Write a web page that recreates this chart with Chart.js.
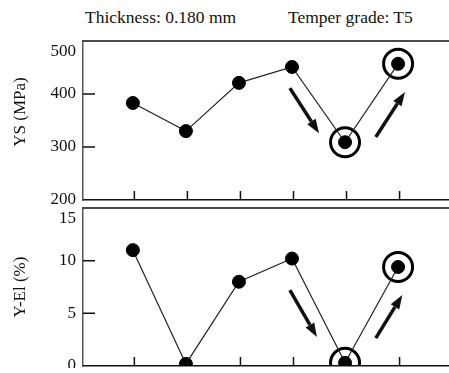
<!DOCTYPE html>
<html>
<head>
<meta charset="utf-8">
<script src="https://cdn.jsdelivr.net/npm/chart.js@4/dist/chart.umd.min.js"></script>
<style>
    html, body { margin: 0; padding: 0; background: #fff; overflow: hidden; }
    #page { position: relative; width: 449px; height: 373px; overflow: hidden; background: #fff; }
    .head { position: absolute; top: 9px; font: 17.5px "Liberation Serif", serif; line-height: 1; color: #111; white-space: nowrap; }
    canvas { position: absolute; left: 0; display: block; }
</style>
</head>
<body>
<div id="page">
    <div class="head" id="thickness" style="left:85px"></div>
    <div class="head" id="temper" style="left:288px"></div>
    <canvas id="ys" width="449" height="207" style="top:0;width:449px;height:207px"></canvas>
    <canvas id="el" width="449" height="161" style="top:207px;width:449px;height:161px"></canvas>
</div>
<script>
const headings = ["Thickness: 0.180 mm", "Temper grade: T5"];
const samples = [1, 2, 3, 4, 5, 6];
const ysValues = [383, 330, 421, 451, 309, 457];
const elValues = [11.0, 0.2, 8.0, 10.2, 0.3, 9.4];
const circledSamples = [5, 6];
const ysTicks = [200, 300, 400, 500];
const elTicks = [0, 5, 10, 15];
// arrows: [fromX, fromY, toX, toY] in data units
const ysArrows = [[3.96, 411, 4.51, 326], [5.58, 319, 6.13, 404]];
const elArrows = [[3.96, 7.2, 4.47, 2.75], [5.58, 2.65, 6.08, 6.75]];

document.getElementById("thickness").textContent = headings[0];
document.getElementById("temper").textContent = headings[1];

const serif = "'Liberation Serif', serif";
Chart.defaults.font.family = serif;
Chart.defaults.font.size = 17;
Chart.defaults.color = "#111";

// keep the scale boxes from adding their own edge padding
function fixBox(s, w, h) {
    if (w !== null) s.width = w;
    if (h !== null) s.height = h;
    s.paddingTop = s.paddingBottom = s.paddingLeft = s.paddingRight = 0;
}

const framePlugin = {
    id: "frame",
    afterDatasetsDraw(chart, args, opts) {
        const { ctx, chartArea: a } = chart;
        const x = chart.scales.x, y = chart.scales.y;
        ctx.save();
        ctx.strokeStyle = "#111";
        ctx.lineWidth = 1.5;
        ctx.beginPath();
        ctx.moveTo(a.left, a.top);
        ctx.lineTo(a.right, a.top);
        for (const v of opts.yTicks.slice(1, -1)) {
            const py = y.getPixelForValue(v);
            ctx.moveTo(a.left, py);
            ctx.lineTo(a.left + 12, py);
        }
        for (const s of samples) {
            const px = x.getPixelForValue(s) + 1.5;
            ctx.moveTo(px, a.bottom);
            ctx.lineTo(px, a.bottom - 9);
        }
        ctx.stroke();

        ctx.fillStyle = "#111";
        for (const [x0, y0, x1, y1] of opts.arrows) {
            const p0x = x.getPixelForValue(x0), p0y = y.getPixelForValue(y0);
            const p1x = x.getPixelForValue(x1), p1y = y.getPixelForValue(y1);
            const ang = Math.atan2(p1y - p0y, p1x - p0x);
            const head = 14, half = 5;
            const bx = p1x - head * Math.cos(ang), by = p1y - head * Math.sin(ang);
            ctx.lineWidth = 3.5;
            ctx.beginPath();
            ctx.moveTo(p0x, p0y);
            ctx.lineTo(bx, by);
            ctx.stroke();
            ctx.beginPath();
            ctx.moveTo(p1x, p1y);
            ctx.lineTo(bx + half * Math.sin(ang), by - half * Math.cos(ang));
            ctx.lineTo(bx - half * Math.sin(ang), by + half * Math.cos(ang));
            ctx.closePath();
            ctx.fill();
        }
        ctx.restore();
    }
};

function drawPanel(id, values, ticks, title, arrows, padTop, padBottom) {
    const top = ticks[ticks.length - 1];
    return new Chart(document.getElementById(id), {
        type: "line",
        data: {
            datasets: [
                {
                    data: samples.map((s, i) => ({ x: s, y: values[i] })),
                    borderColor: "#222",
                    borderWidth: 1.2,
                    pointRadius: 6.5,
                    pointBorderWidth: 1,
                    pointBackgroundColor: "#000",
                    pointBorderColor: "#000",
                },
                {
                    data: circledSamples.map(s => ({ x: s, y: values[samples.indexOf(s)] })),
                    showLine: false,
                    pointRadius: 14.5,
                    pointBorderWidth: 3,
                    pointBorderColor: "#000",
                    pointBackgroundColor: "rgba(0,0,0,0)",
                }
            ]
        },
        options: {
            responsive: false,
            animation: false,
            devicePixelRatio: 1,
            events: [],
            layout: { autoPadding: false, padding: { top: padTop, bottom: padBottom, left: 0, right: 0 } },
            plugins: {
                legend: { display: false },
                tooltip: { enabled: false },
                frame: { arrows: arrows, yTicks: ticks },
            },
            scales: {
                x: {
                    type: "linear",
                    min: 0.06,
                    max: 6.96,
                    ticks: { display: false },
                    grid: { drawOnChartArea: false, drawTicks: false },
                    border: { color: "#111", width: 1.5 },
                    afterFit: s => fixBox(s, null, 0),
                },
                y: {
                    min: ticks[0],
                    max: top,
                    afterBuildTicks: s => { s.ticks = ticks.map(v => ({ value: v })); },
                    ticks: {
                        padding: 7,
                        color: "#111",
                        autoSkip: false,
                        font: { family: serif, size: 17 },
                        callback: v => v === top ? ["", String(v)] : String(v),
                    },
                    grid: { drawOnChartArea: false, drawTicks: false },
                    border: { color: "#555", width: 1.5 },
                    title: { display: true, text: title, color: "#111", font: { family: serif, size: 17 }, padding: { top: 10, bottom: 0 } },
                    afterFit: s => fixBox(s, 83, null),
                }
            }
        },
        plugins: [framePlugin]
    });
}

// leading spaces nudge the YS title up a little, as in the original
drawPanel("ys", ysValues, ysTicks, "    YS (MPa)", ysArrows, 41, 7);
drawPanel("el", elValues, elTicks, "Y-El (%)", elArrows, 1, 2);
</script>
</body>
</html>
